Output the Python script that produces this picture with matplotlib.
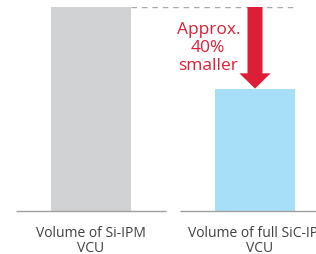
import matplotlib
matplotlib.use("Agg")
import matplotlib.pyplot as plt
from matplotlib.patches import FancyArrowPatch

# data
categories = ["Volume of Si-IPM\nVCU", "Volume of full SiC-IPM\nVCU"]
volumes = [100, 60]
bar_colors = ["#d1d2d4", "#a8dff8"]
note = "Approx.\n40%\nsmaller"

W, H = 316, 255
fig = plt.figure(figsize=(W / 100, H / 100), dpi=100)
# axes: y=0 at px 212, y=100 at px 8; x centres at px 91 / 255
ax = fig.add_axes([0, 43 / H, 1, 204 / H])
x = list(range(len(categories)))
step = 164
ax.set_xlim(-91 / step, (W - 91) / step)
ax.set_ylim(0, 100)
ax.axis("off")

bw = 80 / step
ax.bar(x, volumes, width=bw, color=bar_colors, zorder=2)

# split baselines under each bar
for xi in x:
    ax.plot([xi - 0.46, xi + 0.46], [0, 0], color="#a0a0a0", lw=1,
            solid_capstyle="butt", clip_on=False)

# dashed reference line from top of first bar
ax.plot([x[0] + bw / 2, x[1] + bw / 2 + 0.01], [volumes[0], volumes[0]],
        color="#a8a8a8", lw=1, dashes=(4, 3.5))

# red arrow
arr = FancyArrowPatch((x[1], volumes[0]), (x[1], volumes[1]),
                      arrowstyle="simple,head_length=11,head_width=22.5,tail_width=10.8",
                      mutation_scale=1, shrinkA=0, shrinkB=0,
                      color="#dc1f36", lw=0, zorder=3)
ax.add_patch(arr)

ax.text(0.715, 80.5, note, ha="center", va="center", color="#dc1f36",
        fontsize=12.5, family="Open Sans", linespacing=1.15)

for xi, lab in zip(x, categories):
    ax.text(xi + (0.025 * xi), -7, lab, ha="center", va="top", color="#404040",
            fontsize=10, family="Open Sans", linespacing=1.0, clip_on=False)

fig.savefig("out.png", dpi=100)
